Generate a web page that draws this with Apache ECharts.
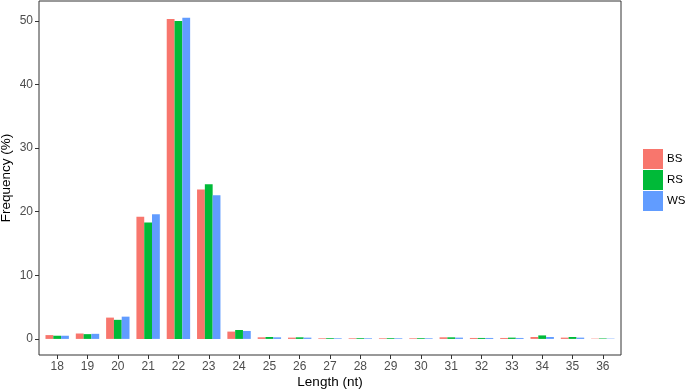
<!DOCTYPE html>
<html>
<head>
<meta charset="utf-8">
<script src="https://cdn.jsdelivr.net/npm/echarts@6/dist/echarts.min.js"></script>
<style>html,body{margin:0;padding:0;background:#fff;}#c{width:685px;height:390px;}</style>
</head>
<body>
<div id="c"></div>
<script>
const lengths = [18,19,20,21,22,23,24,25,26,27,28,29,30,31,32,33,34,35,36];
const yTicks = [0,10,20,30,40,50];
const seriesNames = ['BS','RS','WS'];
const bs = [0.6,0.85,3.35,19.2,50.3,23.5,1.15,0.25,0.2,0.1,0.1,0.1,0.1,0.25,0.15,0.15,0.3,0.2,0.05];
const rs = [0.5,0.75,3.0,18.3,50.0,24.3,1.4,0.3,0.25,0.12,0.12,0.12,0.12,0.25,0.15,0.2,0.55,0.3,0.08];
const ws = [0.5,0.8,3.5,19.6,50.5,22.6,1.25,0.25,0.2,0.1,0.1,0.1,0.1,0.2,0.15,0.15,0.3,0.2,0.05];
const colors = ['#F8766D','#00BA38','#619CFF'];

const values = [bs, rs, ws];
const chart = echarts.init(document.getElementById('c'), null, {renderer:'canvas'});
const font = 'Liberation Sans, Arial, sans-serif';
chart.setOption({
  animation:false,
  color: colors,
  grid:{left:39, top:1, right:64, bottom:35, outerBoundsMode:'none', containLabel:false, show:true, borderColor:'#333333', borderWidth:1, backgroundColor:'transparent'},
  legend:{
    orient:'vertical', left:643, top:149, padding:0, itemWidth:20, itemHeight:20, itemGap:1, icon:'rect',
    textStyle:{fontFamily:font, fontSize:11.5, color:'#000', padding:[0,0,0,-1]},
    data: seriesNames
  },
  xAxis:{
    type:'value', min:17.4, max:36.6,
    name:'Length (nt)', nameLocation:'middle', nameGap:20, nameMoveOverlap:false,
    nameTextStyle:{fontFamily:font, fontSize:13.5, color:'#000'},
    axisLine:{show:false, onZero:false},
    splitLine:{show:false},
    axisTick:{show:true, inside:false, length:4, lineStyle:{color:'#333'}, customValues:lengths},
    axisLabel:{fontFamily:font, fontSize:12, color:'#4d4d4d', margin:6, customValues:lengths, formatter:v=>String(v)}
  },
  yAxis:{
    type:'value', min:-2.53, max:53.13,
    name:'Frequency (%)', nameLocation:'middle', nameGap:26, nameRotate:90, nameMoveOverlap:false,
    nameTextStyle:{fontFamily:font, fontSize:13.5, color:'#000'},
    axisLine:{show:false, onZero:false},
    splitLine:{show:false},
    axisTick:{show:true, inside:false, length:4, lineStyle:{color:'#333'}, customValues:yTicks},
    axisLabel:{fontFamily:font, fontSize:12, color:'#4d4d4d', margin:6, customValues:yTicks, formatter:v=>String(v)}
  },
  series: seriesNames.map((n,i)=>({
    name:n, type:'bar', barWidth:7.8, barGap:'0%',
    data: lengths.map((l,j)=>[l, values[i][j]]),
    itemStyle:{color:colors[i]}
  }))
});
</script>
</body>
</html>
